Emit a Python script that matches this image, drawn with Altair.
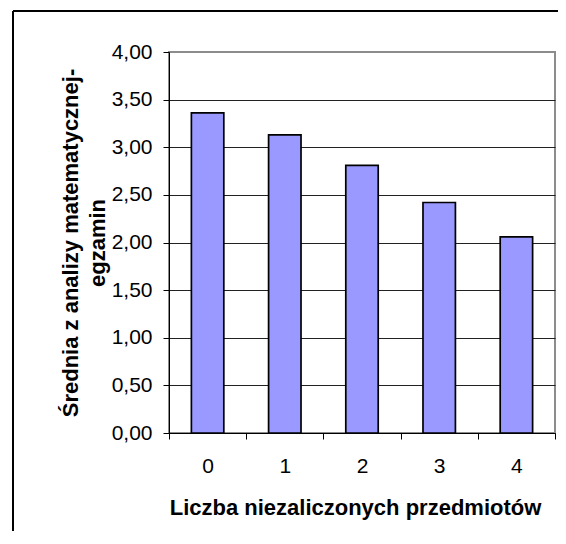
import altair as alt
import pandas as pd

categories = ["0", "1", "2", "3", "4"]
values = [3.36, 3.13, 2.81, 2.42, 2.06]
y_ticks = [0, 0.5, 1, 1.5, 2, 2.5, 3, 3.5, 4]
x_title = "Liczba niezaliczonych przedmiotów"
y_title = ["Średnia z analizy matematycznej-", "egzamin"]

df = pd.DataFrame({"k": categories, "v": values})
FONT = "Liberation Sans"

bars = alt.Chart(df).mark_bar(
    width=alt.RelativeBandSize(0.42), fill="#9999ff", stroke="black", strokeWidth=1.7
).encode(
    x=alt.X(
        "k:O",
        sort=categories,
        scale=alt.Scale(paddingInner=0, paddingOuter=0),
        axis=alt.Axis(
            title=x_title,
            labelAngle=0,
            tickBand="extent",
            tickSize=6,
            tickColor="black",
            domainColor="black",
            labelFont=FONT,
            labelFontSize=21,
            labelColor="black",
            labelBaseline="alphabetic",
            labelPadding=33,
            titleFont=FONT,
            titleFontSize=22,
            titleFontWeight="bold",
            titleColor="black",
            titleX=186,
            titleY=81,
            titleBaseline="alphabetic",
            titleAlign="center",
            grid=False,
        ),
    ),
    y=alt.Y(
        "v:Q",
        scale=alt.Scale(domain=[0, 4], nice=False),
        axis=alt.Axis(
            title=y_title,
            values=y_ticks,
            labelExpr="replace(format(datum.value, '.2f'), '.', ',')",
            tickSize=6,
            tickColor="black",
            domainColor="black",
            labelFont=FONT,
            labelFontSize=21,
            labelColor="black",
            labelPadding=11,
            grid=True,
            gridColor={"condition": {"test": "datum.value >= 4", "value": "#8c8c8c"}, "value": "#222222"},
            gridWidth=1,
            titleFont=FONT,
            titleFontSize=22,
            titleFontWeight="bold",
            titleColor="black",
            titleAngle=270,
            titleX=-99,
            titleY=190.5,
            titleAlign="center",
            titleBaseline="middle",
            titleLineHeight=27,
        ),
    ),
)

one = pd.DataFrame({"a": [0]})
left_border = alt.Chart(one).mark_rule(color="black", strokeWidth=2).encode(
    x=alt.value(-156), y=alt.value(-41), y2=alt.value(500)
)
top_border = alt.Chart(one).mark_rule(color="black", strokeWidth=2).encode(
    x=alt.value(-156), x2=alt.value(389), y=alt.value(-41)
)

chart = alt.layer(bars, left_border, top_border).properties(
    width=386,
    height=381,
    autosize=alt.AutoSizeParams(type="none"),
    padding={"left": 161, "top": 44, "right": 3, "bottom": 98},
    background="white",
).configure_view(stroke="#8c8c8c", strokeWidth=2)

chart.save("out.html", embed_options={"renderer": "svg", "actions": False})
